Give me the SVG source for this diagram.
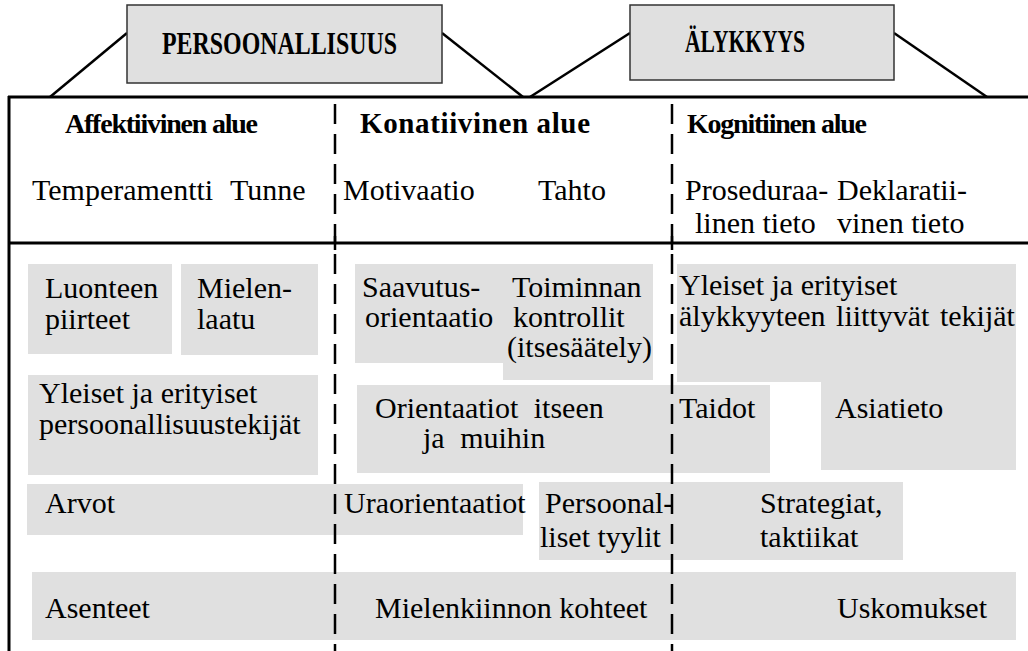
<svg xmlns="http://www.w3.org/2000/svg" width="1028" height="651" viewBox="0 0 1028 651">
<defs>
<style>
.bg{fill:#ffffff}
.cell{fill:#e0e0e0}
.title{fill:#e0e0e0;stroke:#333333;stroke-width:1.5}
.line{stroke:#000000;stroke-width:3;fill:none}
.conn{stroke:#000000;stroke-width:2.5;fill:none}
.dash{stroke:#000000;stroke-width:2.5;stroke-dasharray:20 10;fill:none}
.t{font-family:"Liberation Serif","Times New Roman",serif;font-size:30px;fill:#000000}
.h{font-family:"Liberation Serif","Times New Roman",serif;font-size:28px;font-weight:bold;fill:#000000}
.tt{font-family:"Liberation Serif","Times New Roman",serif;font-size:31px;font-weight:bold;fill:#000000}
</style>
</defs>
<rect class="bg" x="0" y="0" width="1028" height="651"/>

<g id="connectors">
<line class="conn" x1="127" y1="33" x2="50" y2="97"/>
<line class="conn" x1="442" y1="33" x2="523" y2="97"/>
<line class="conn" x1="630" y1="33" x2="530" y2="97"/>
<line class="conn" x1="894" y1="33" x2="987" y2="97"/>
</g>

<g id="node-persoonallisuus">
<rect class="title" x="127" y="5" width="315" height="78"/>
<text class="tt" x="162" y="54" textLength="235" lengthAdjust="spacingAndGlyphs">PERSOONALLISUUS</text>
</g>
<g id="node-alykkyys">
<rect class="title" x="630" y="5" width="264" height="75"/>
<text class="tt" x="685" y="52" textLength="120" lengthAdjust="spacingAndGlyphs">ÄLYKKYYS</text>
</g>

<g id="cells">
<rect class="cell" x="28" y="264" width="144" height="90"/>
<rect class="cell" x="181" y="264" width="137" height="91"/>
<rect class="cell" x="28" y="375" width="290" height="100"/>
<rect class="cell" x="355" y="264" width="298" height="99"/>
<rect class="cell" x="503" y="264" width="150" height="116"/>
<rect class="cell" x="677" y="264" width="339" height="118"/>
<rect class="cell" x="821" y="264" width="195" height="206"/>
<rect class="cell" x="357" y="385" width="413" height="88"/>
<rect class="cell" x="27" y="484" width="496" height="51"/>
<rect class="cell" x="539" y="482" width="364" height="78"/>
<rect class="cell" x="32" y="572" width="984" height="68"/>
</g>

<g id="table">
<line class="line" x1="8" y1="97" x2="1028" y2="97"/>
<line class="line" x1="9" y1="96" x2="9" y2="651"/>
<line class="line" x1="9" y1="243" x2="1028" y2="243"/>
<line class="dash" x1="335" y1="104" x2="335" y2="651"/>
<line class="dash" x1="672" y1="104" x2="672" y2="651"/>
<line class="line" x1="335" y1="236" x2="335" y2="250" style="stroke-width:2.5"/>
<line class="line" x1="672" y1="236" x2="672" y2="250" style="stroke-width:2.5"/>
</g>

<g id="node-affektiivinen">
<text class="h" x="65" y="133" textLength="193" lengthAdjust="spacing">Affektiivinen alue</text>
<text class="t" x="32" y="200">Temperamentti</text>
<text class="t" x="230" y="200">Tunne</text>
</g>
<g id="node-konatiivinen">
<text class="h" x="360" y="133" style="font-size:29px" textLength="230" lengthAdjust="spacing">Konatiivinen alue</text>
<text class="t" x="343" y="200">Motivaatio</text>
<text class="t" x="538" y="200">Tahto</text>
</g>
<g id="node-kognitiivinen">
<text class="h" x="687" y="133" textLength="180" lengthAdjust="spacing">Kognitiinen alue</text>
<text class="t" x="685" y="200">Proseduraa-</text>
<text class="t" x="695" y="233">linen tieto</text>
<text class="t" x="837" y="200">Deklaratii-</text>
<text class="t" x="837" y="233">vinen tieto</text>
</g>

<g id="node-luonteen">
<text class="t" x="45" y="298">Luonteen</text>
<text class="t" x="45" y="329">piirteet</text>
</g>
<g id="node-mielenlaatu">
<text class="t" x="197" y="298">Mielen-</text>
<text class="t" x="197" y="329">laatu</text>
</g>
<g id="node-yleiset-pers">
<text class="t" x="39" y="403">Yleiset ja erityiset</text>
<text class="t" x="39" y="434">persoonallisuustekijät</text>
</g>
<g id="node-saavutus">
<text class="t" x="362" y="297">Saavutus-</text>
<text class="t" x="365" y="327">orientaatio</text>
</g>
<g id="node-toiminnan">
<text class="t" x="512" y="297">Toiminnan</text>
<text class="t" x="513" y="327">kontrollit</text>
<text class="t" x="507" y="357">(itsesäätely)</text>
</g>
<g id="node-yleiset-aly">
<text class="t" x="679" y="295">Yleiset ja erityiset</text>
<text class="t" x="679" y="326" style="word-spacing:3px">älykkyyteen liittyvät tekijät</text>
</g>
<g id="node-orientaatiot">
<text class="t" x="375" y="418" style="word-spacing:8px">Orientaatiot itseen</text>
<text class="t" x="423" y="448" style="word-spacing:8px">ja muihin</text>
</g>
<g id="node-taidot">
<text class="t" x="679" y="418">Taidot</text>
</g>
<g id="node-asiatieto">
<text class="t" x="835" y="418">Asiatieto</text>
</g>
<g id="node-arvot">
<text class="t" x="45" y="513">Arvot</text>
</g>
<g id="node-uraorientaatiot">
<text class="t" x="344" y="513">Uraorientaatiot</text>
</g>
<g id="node-persoonalliset">
<text class="t" x="545" y="513">Persoonal-</text>
<text class="t" x="540" y="547">liset tyylit</text>
</g>
<g id="node-strategiat">
<text class="t" x="760" y="513">Strategiat,</text>
<text class="t" x="760" y="547">taktiikat</text>
</g>
<g id="node-asenteet">
<text class="t" x="45" y="618">Asenteet</text>
</g>
<g id="node-mielenkiinnon">
<text class="t" x="375" y="618">Mielenkiinnon kohteet</text>
</g>
<g id="node-uskomukset">
<text class="t" x="837" y="618">Uskomukset</text>
</g>
</svg>
